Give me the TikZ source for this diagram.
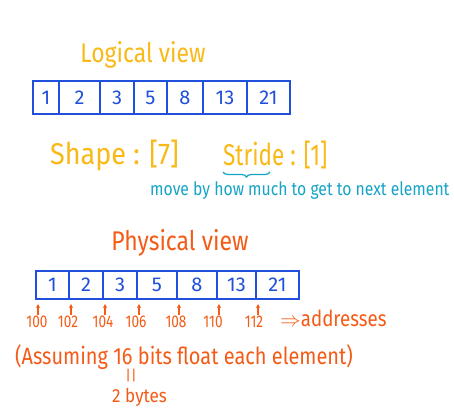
\documentclass[tikz,border=0pt]{standalone}
\usepackage{fontspec}
\setmainfont{Fira Sans}
\usetikzlibrary{arrows.meta,decorations.pathreplacing,calc}
\definecolor{cyel}{HTML}{F9B917}
\definecolor{cblue}{HTML}{1F4FDB}
\definecolor{cteal}{HTML}{15A4C6}
\definecolor{corange}{HTML}{F45B16}
\begin{document}
\begin{tikzpicture}[x=1pt,y=-1pt,
  cell/.style={draw=cblue, line width=2pt, text=cblue, inner sep=0pt, anchor=north west, font=\fontsize{20}{20}\selectfont},
  title/.style={font=\fontsize{27}{27}\selectfont\addfontfeature{FakeStretch=0.85}, inner sep=0pt},
  big/.style={text=cyel, font=\fontsize{30}{30}\selectfont\addfontfeature{FakeStretch=0.9}, inner sep=0pt},
  note/.style={text=cteal, font=\fontsize{18.5}{19}\selectfont\addfontfeature{FakeStretch=0.85}, inner sep=0pt},
  addr/.style={text=corange, font=\fontsize{17}{17}\selectfont\addfontfeature{FakeStretch=0.8}, inner sep=0pt},
  orangetext/.style={text=corange, font=\fontsize{23.5}{24}\selectfont\addfontfeature{FakeStretch=0.85}, inner sep=0pt},
  arr/.style={draw=corange, line width=1.2pt, -{Stealth[length=4pt,width=4pt]}}]
\useasboundingbox[fill=white] (0,0) rectangle (454,410);
% Logical view
\node[title, text=cyel] (ltitle) at (143,55) {Logical view};
\foreach \a/\b/\v [count=\i] in {32/58/1,58/99/2,99/133/3,133/166/5,166/202/8,202/246/13,246/289/21}
  \node[cell, minimum width={(\b-\a)*1pt}, minimum height=33pt] (l\i) at (\a,80) {\v};
\node[big, anchor=west] (shape) at (50,155) {Shape : [7]};
\node[big, anchor=west, font=\fontsize{30}{30}\selectfont\addfontfeature{FakeStretch=0.75}] (stride) at (223,155) {Stride : [1]};
\coordinate (brA) at (223,172);
\coordinate (brB) at (270,172);
\draw[cteal, line width=1.2pt, decorate, decoration={brace, mirror, amplitude=5pt}] (brA) -- (brB);
\node[note, anchor=west] (move) at (150,191) {move by how much to get to next element};
% Physical view
\node[title, text=corange] (ptitle) at (180,243) {Physical view};
\foreach \a/\b/\v [count=\i] in {35/68/1,68/102/2,102/136/3,136/176/5,176/216/8,216/255/13,255/298/21}
  \node[cell, minimum width={(\b-\a)*1pt}, minimum height=28pt] (p\i) at (\a,270) {\v};
\foreach \x/\t [count=\i] in {37/100,68/102,103/104,136/106,176/108,213/110,254/112}
  \node[addr] (ad\i) at (\x,322) {\t};
\foreach \i in {1,...,7}
  \draw[arr] ($(p\i.south west)+(3,15)$) -- ($(p\i.south west)+(3,4)$);
\node[orangetext, anchor=west, font=\fontsize{22}{22}\selectfont\addfontfeature{FakeStretch=0.85}] (addresses) at (280,318) {$\Rightarrow$addresses};
\node[orangetext, anchor=west] (assume) at (15,357) {(Assuming 16 bits float each element)};
\node[addr, font=\fontsize{14}{14}\selectfont] (eq) at (131,376) {||};
\node[addr, anchor=west, font=\fontsize{19}{19}\selectfont\addfontfeature{FakeStretch=0.9}] (bytes) at (112,397) {2 bytes};
\end{tikzpicture}
\end{document}
